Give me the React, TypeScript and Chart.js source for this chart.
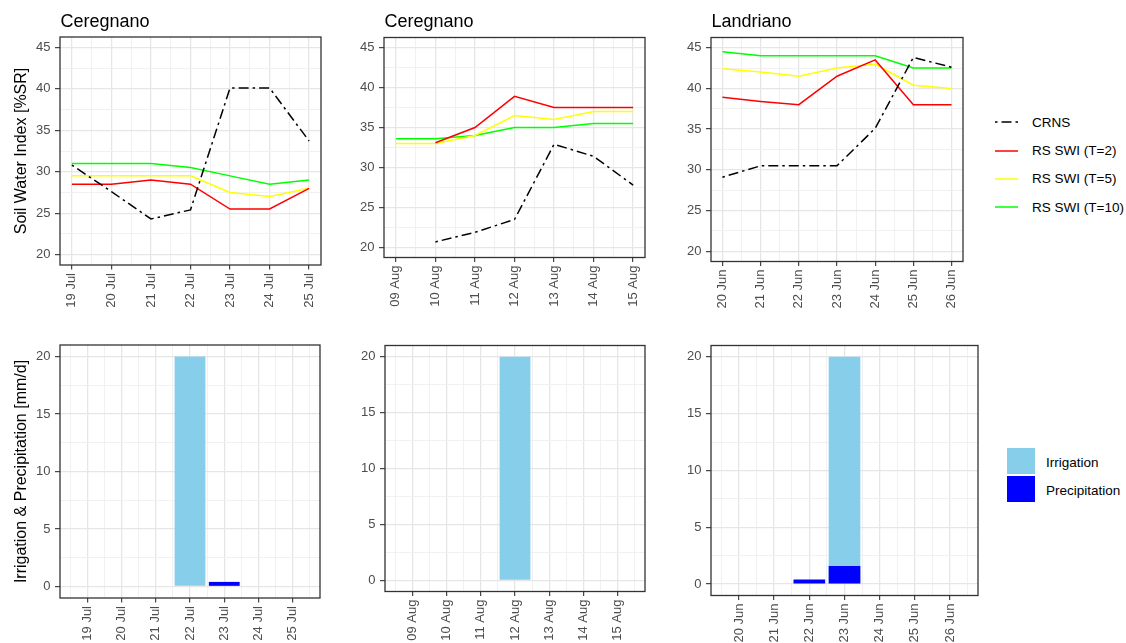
import React, { useEffect, useRef } from 'react';
import { Chart, registerables } from 'chart.js';

Chart.register(...registerables);

const FONT_FAMILY = "'Liberation Sans', Arial, Helvetica, sans-serif";
Chart.defaults.font.family = FONT_FAMILY;

// ---------------- data ----------------
const panelTitles = ['Ceregnano', 'Ceregnano', 'Landriano'];

const julDays = ['19 Jul', '20 Jul', '21 Jul', '22 Jul', '23 Jul', '24 Jul', '25 Jul'];
const augDays = ['09 Aug', '10 Aug', '11 Aug', '12 Aug', '13 Aug', '14 Aug', '15 Aug'];
const junDays = ['20 Jun', '21 Jun', '22 Jun', '23 Jun', '24 Jun', '25 Jun', '26 Jun'];

// Ceregnano, July
const julCrns = [30.8, 27.6, 24.3, 25.4, 40.1, 40.1, 33.7];
const julSwi2 = [28.5, 28.5, 29.0, 28.5, 25.5, 25.5, 28.0];
const julSwi5 = [29.5, 29.5, 29.5, 29.5, 27.5, 27.0, 28.0];
const julSwi10 = [31.0, 31.0, 31.0, 30.5, 29.5, 28.5, 29.0];
const julIrrigation = [0, 0, 0, 20, 0, 0, 0];
const julPrecipitation = [0, 0, 0, 0, 0.4, 0, 0];

// Ceregnano, August
const augCrns = [null, 20.7, 21.9, 23.5, 32.9, 31.4, 27.8];
const augSwi2 = [null, 33.1, 35.0, 38.9, 37.5, 37.5, 37.5];
const augSwi5 = [33.0, 33.0, 34.0, 36.5, 36.0, 37.0, 37.0];
const augSwi10 = [33.6, 33.6, 34.0, 35.0, 35.0, 35.5, 35.5];
const augIrrigation = [0, 0, 0, 20, 0, 0, 0];
const augPrecipitation = [0, 0, 0, 0, 0, 0, 0];

// Landriano, June
const junCrns = [29.1, 30.5, 30.5, 30.5, 35.1, 43.8, 42.6];
const junSwi2 = [38.9, 38.4, 38.0, 41.5, 43.5, 38.0, 38.0];
const junSwi5 = [42.4, 42.0, 41.5, 42.5, 43.0, 40.4, 40.0];
const junSwi10 = [44.5, 44.0, 44.0, 44.0, 44.0, 42.5, 42.5];
const junIrrigation = [0, 0, 0, 20, 0, 0, 0];
const junPrecipitation = [0, 0, 0.4, 1.6, 0, 0, 0];

const swiTicks = [20, 25, 30, 35, 40, 45];
const waterTicks = [0, 5, 10, 15, 20];
const dayIndexTicks = [0, 1, 2, 3, 4, 5, 6];

const swiAxisTitle = 'Soil Water Index [%SR]';
const waterAxisTitle = 'Irrigation & Precipitation [mm/d]';

const seriesNames = ['CRNS', 'RS SWI (T=2)', 'RS SWI (T=5)', 'RS SWI (T=10)'];
const barNames = ['Irrigation', 'Precipitation'];

// ---------------- styles ----------------
const seriesColors = ['#000000', '#FF0000', '#FFFF00', '#00FF00'];
const crnsDash = [2.5, 4, 10, 4];
const barColors = ['#87CEEB', '#0000FF'];
const TICK_LABEL_COLOR = '#4D4D4D';
const FRAME_COLOR = '#333333';

// ggplot-like 5% expansion of ranges
const expand = (lo: number, hi: number) => {
  const d = (hi - lo) * 0.05;
  return [lo - d, hi + d];
};
const [swiMin, swiMax] = expand(swiTicks[0], swiTicks[swiTicks.length - 1]);
const [waterMin, waterMax] = expand(waterTicks[0], waterTicks[waterTicks.length - 1]);
const [lineXMin, lineXMax] = expand(0, 6);
const [barXMin, barXMax] = expand(-0.45, 6.45);

// ---------------- helpers ----------------
const toXY = (vals: (number | null)[]) => vals.map((v, i) => ({ x: i, y: v }));

const buildTicks = (majors: number[], min: number, max: number) => {
  const step = majors[1] - majors[0];
  const vals: number[] = [...majors];
  for (let i = -1; i < majors.length; i++) {
    const m = i < 0 ? majors[0] - step / 2 : majors[i] + step / 2;
    if (m >= min && m <= max) vals.push(m);
  }
  vals.sort((a, b) => a - b);
  return vals.map((value) => ({ value }));
};

const isIn = (arr: number[], v: number) => arr.some((a) => Math.abs(a - v) < 1e-9);

const panelFramePlugin = {
  id: 'panelFrame',
  afterDatasetsDraw(chart: any) {
    const { ctx, chartArea: a } = chart;
    ctx.save();
    ctx.strokeStyle = FRAME_COLOR;
    ctx.lineWidth = 1.3;
    ctx.strokeRect(a.left, a.top, a.right - a.left, a.bottom - a.top);
    ctx.restore();
  },
};

const panelTitlePlugin = {
  id: 'panelTitle',
  afterDraw(chart: any, _args: any, opts: any) {
    if (!opts || !opts.text) return;
    const { ctx, chartArea } = chart;
    ctx.save();
    ctx.font = `18px ${FONT_FAMILY}`;
    ctx.fillStyle = '#000000';
    ctx.textAlign = 'left';
    ctx.textBaseline = 'alphabetic';
    ctx.fillText(opts.text, chartArea.left + 0.5, opts.baseline);
    ctx.restore();
  },
};

type Box = {
  cx: number; cy: number; cw: number; ch: number;
  left: number; top: number; right: number; bottom: number;
};

const gridStyle = (majors: number[], tickLength: number) => ({
  color: (c: any) => (c.tick && isIn(majors, c.tick.value) ? '#E6E6E6' : '#EFEFEF'),
  lineWidth: (c: any) => (c.tick && isIn(majors, c.tick.value) ? 1.3 : 0.9),
  tickColor: (c: any) => (c.tick && isIn(majors, c.tick.value) ? FRAME_COLOR : 'rgba(0,0,0,0)'),
  tickLength,
  tickWidth: 1.1,
  offset: false,
  drawOnChartArea: true,
});

function baseOptions(
  box: Box,
  dayLabels: string[],
  yMajors: number[],
  yMin: number,
  yMax: number,
  xMin: number,
  xMax: number,
  yTitle: string | null,
  title: string | null
) {
  return {
    responsive: false,
    animation: false,
    events: [],
    layout: {
      padding: {
        top: box.top - box.cy,
        right: box.cx + box.cw - box.right,
        left: 0,
        bottom: 0,
      },
    },
    plugins: {
      legend: { display: false },
      tooltip: { enabled: false },
      panelTitle: { text: title, baseline: 27 - box.cy },
    },
    scales: {
      x: {
        type: 'linear',
        min: xMin,
        max: xMax,
        offset: false,
        bounds: 'data',
        afterBuildTicks: (s: any) => {
          s.ticks = buildTicks(dayIndexTicks, xMin, xMax);
        },
        afterFit: (s: any) => {
          s.height = box.cy + box.ch - box.bottom;
        },
        ticks: {
          autoSkip: false,
          minRotation: 90,
          maxRotation: 90,
          padding: 3.5,
          color: TICK_LABEL_COLOR,
          font: { size: 13 },
          callback: (v: number) => (isIn(dayIndexTicks, v) ? dayLabels[Math.round(v)] : ''),
        },
        grid: gridStyle(dayIndexTicks, 4.5),
        border: { display: false },
      },
      y: {
        type: 'linear',
        min: yMin,
        max: yMax,
        bounds: 'data',
        afterBuildTicks: (s: any) => {
          s.ticks = buildTicks(yMajors, yMin, yMax);
        },
        afterFit: (s: any) => {
          s.width = box.left - box.cx;
        },
        ticks: {
          autoSkip: false,
          padding: 4.5,
          color: TICK_LABEL_COLOR,
          font: { size: 13 },
          callback: (v: number) => (isIn(yMajors, v) ? String(v) : ''),
        },
        grid: gridStyle(yMajors, 5),
        border: { display: false },
        title: {
          display: !!yTitle,
          text: yTitle || '',
          color: '#000000',
          font: { size: 16 },
          padding: { top: 12.4, bottom: 0 },
        },
      },
    },
  };
}

function swiConfig(box: Box, title: string, days: string[], crns: any[], t2: any[], t5: any[], t10: any[], yTitle: string | null) {
  const common = { pointRadius: 0, borderWidth: 1.5, fill: false, tension: 0, spanGaps: false };
  return {
    type: 'line',
    data: {
      datasets: [
        { ...common, label: seriesNames[0], data: toXY(crns), borderColor: seriesColors[0], borderDash: crnsDash, order: 0 },
        { ...common, label: seriesNames[1], data: toXY(t2), borderColor: seriesColors[1], order: 1 },
        { ...common, label: seriesNames[2], data: toXY(t5), borderColor: seriesColors[2], order: 2 },
        { ...common, label: seriesNames[3], data: toXY(t10), borderColor: seriesColors[3], order: 3 },
      ],
    },
    options: baseOptions(box, days, swiTicks, swiMin, swiMax, lineXMin, lineXMax, yTitle, title),
    plugins: [panelFramePlugin, panelTitlePlugin],
  };
}

function waterConfig(box: Box, days: string[], irrigation: number[], precipitation: number[], yTitle: string | null) {
  // the bar ruler also measures the half-day (minor) tick spacing, hence barPercentage 1.8 = 0.9 day
  const common = { grouped: false, barPercentage: 1.8, categoryPercentage: 1, borderWidth: 0 };
  return {
    type: 'bar',
    data: {
      datasets: [
        { ...common, label: barNames[0], data: toXY(irrigation), backgroundColor: barColors[0], order: 1 },
        { ...common, label: barNames[1], data: toXY(precipitation), backgroundColor: barColors[1], order: 0 },
      ],
    },
    options: baseOptions(box, days, waterTicks, waterMin, waterMax, barXMin, barXMax, yTitle, null),
    plugins: [panelFramePlugin, panelTitlePlugin],
  };
}

function Panel({ box, build }: { box: Box; build: () => any }) {
  const ref = useRef<HTMLCanvasElement>(null);
  useEffect(() => {
    const chart = new Chart(ref.current as HTMLCanvasElement, build());
    return () => chart.destroy();
  }, []);
  return (
    <canvas
      ref={ref}
      width={box.cw}
      height={box.ch}
      style={{ position: 'absolute', left: box.cx, top: box.cy, width: box.cw, height: box.ch }}
    />
  );
}

const boxTL: Box = { cx: 0, cy: 0, cw: 331, ch: 320, left: 60, top: 37, right: 321, bottom: 265 };
const boxTM: Box = { cx: 330, cy: 0, cw: 325, ch: 320, left: 384, top: 37.5, right: 645, bottom: 257.5 };
const boxTR: Box = { cx: 660, cy: 0, cw: 313, ch: 320, left: 711, top: 37.5, right: 963, bottom: 261.5 };
const boxBL: Box = { cx: 0, cy: 320, cw: 330, ch: 360, left: 60, top: 345, right: 320, bottom: 598 };
const boxBM: Box = { cx: 330, cy: 320, cw: 325, ch: 360, left: 385, top: 345.5, right: 645, bottom: 591.5 };
const boxBR: Box = { cx: 660, cy: 320, cw: 328, ch: 360, left: 711, top: 345.5, right: 978, bottom: 595.5 };

function SwiLegend() {
  return (
    <div style={{ position: 'absolute', left: 995, top: 108.2, fontFamily: FONT_FAMILY, fontSize: 13.5, color: '#000' }}>
      {seriesNames.map((name, i) => (
        <div key={name} style={{ height: 28.3, display: 'flex', alignItems: 'center' }}>
          <svg width={23} height={4} style={{ display: 'block' }}>
            <line
              x1={0}
              y1={2}
              x2={23}
              y2={2}
              stroke={seriesColors[i]}
              strokeWidth={1.5}
              strokeDasharray={i === 0 ? crnsDash.join(' ') : undefined}
            />
          </svg>
          <span style={{ marginLeft: 14, whiteSpace: 'nowrap' }}>{name}</span>
        </div>
      ))}
    </div>
  );
}

function WaterLegend() {
  return (
    <div style={{ position: 'absolute', left: 1007, top: 448.3, fontFamily: FONT_FAMILY, fontSize: 13.5, color: '#000' }}>
      {barNames.map((name, i) => (
        <div key={name} style={{ height: 25.5, marginBottom: 2.4, display: 'flex', alignItems: 'center' }}>
          <div style={{ width: 28, height: 25.5, background: barColors[i] }} />
          <span style={{ marginLeft: 11, whiteSpace: 'nowrap', position: 'relative', top: 1.5 }}>{name}</span>
        </div>
      ))}
    </div>
  );
}

export default function App() {
  return (
    <div
      style={{
        position: 'absolute',
        left: 0,
        top: 0,
        width: 1126,
        height: 643,
        overflow: 'hidden',
        background: '#FFFFFF',
      }}
    >
      <Panel box={boxTL} build={() => swiConfig(boxTL, panelTitles[0], julDays, julCrns, julSwi2, julSwi5, julSwi10, swiAxisTitle)} />
      <Panel box={boxTM} build={() => swiConfig(boxTM, panelTitles[1], augDays, augCrns, augSwi2, augSwi5, augSwi10, null)} />
      <Panel box={boxTR} build={() => swiConfig(boxTR, panelTitles[2], junDays, junCrns, junSwi2, junSwi5, junSwi10, null)} />
      <Panel box={boxBL} build={() => waterConfig(boxBL, julDays, julIrrigation, julPrecipitation, waterAxisTitle)} />
      <Panel box={boxBM} build={() => waterConfig(boxBM, augDays, augIrrigation, augPrecipitation, null)} />
      <Panel box={boxBR} build={() => waterConfig(boxBR, junDays, junIrrigation, junPrecipitation, null)} />
      <SwiLegend />
      <WaterLegend />
    </div>
  );
}
